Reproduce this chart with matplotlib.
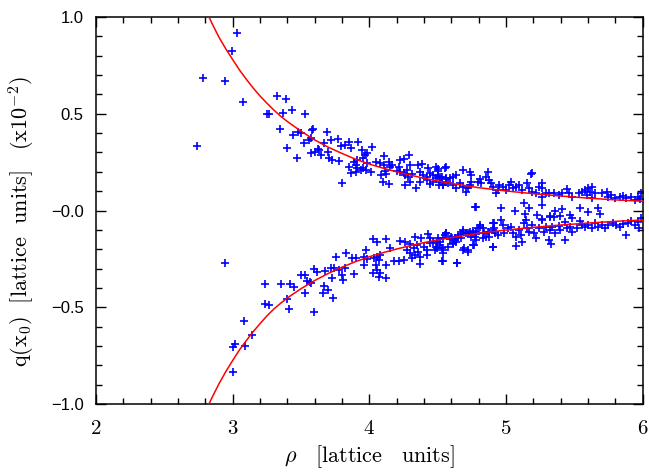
"""q(x0) against rho, with the two fitted decay curves."""

import matplotlib
matplotlib.use('Agg')
import matplotlib.pyplot as plt
from matplotlib.ticker import MultipleLocator

plt.rcParams['mathtext.fontset'] = 'cm'

# measured points, upper branch (q in units of 1e-2)
upper_rho = [3.031, 2.995, 2.785, 2.947, 3.072, 2.741, 3.328, 3.394, 3.249, 3.266,
             3.370, 3.435, 3.527, 3.345, 3.442, 3.478, 3.502, 3.580, 3.587, 3.556,
             3.570, 3.522, 3.396, 3.473, 3.690, 3.671, 3.720, 3.768, 3.628, 3.606,
             3.570, 3.696, 3.647, 3.707, 3.725, 3.780, 3.792, 3.820, 3.797, 3.635,
             3.855, 3.920, 3.864, 4.021, 3.949, 3.966, 3.985, 3.956, 3.913, 3.889,
             3.901, 3.852, 3.913, 3.864, 3.901, 3.937, 3.956, 3.973, 4.009, 3.985,
             4.050, 4.082, 4.111, 4.106, 4.142, 4.149, 4.166, 4.118, 4.087, 4.125,
             4.101, 4.142, 4.227, 4.251, 4.294, 4.215, 4.203, 4.227, 4.251, 4.263,
             4.275, 4.299, 4.287, 4.311, 4.299, 4.263, 4.343, 4.360, 4.384, 4.372,
             4.396, 4.420, 4.432, 4.444, 4.468, 4.488, 4.504, 4.492, 4.468, 4.444,
             4.420, 4.372, 4.517, 4.529, 4.512, 4.553, 4.560, 4.541,
             4.561, 4.505, 4.686, 4.739, 4.747, 4.867, 4.855, 5.193, 5.181, 4.638,
             4.614, 4.590, 4.565, 4.529, 4.505, 4.517, 4.541, 4.578, 4.614, 4.638,
             4.662, 4.686, 4.722, 4.710, 4.747, 4.735, 4.807, 4.819, 4.795, 4.879,
             4.892, 4.904, 4.952, 4.940, 4.928, 4.976, 5.000, 5.024, 5.036, 5.049,
             5.073, 5.097, 5.121, 5.157, 5.169, 5.193, 5.218, 5.242, 5.266, 5.261,
             5.290, 5.266, 5.314, 5.350, 5.387, 5.411, 5.447, 5.459, 5.483, 5.532,
             5.556, 5.580, 5.604, 5.616, 5.592, 5.628, 5.652, 5.701, 5.737, 5.749,
             5.773, 5.797, 5.834, 5.858, 5.882, 5.918, 5.942, 5.966, 5.990, 5.983,
             5.628, 4.778, 4.964, 5.065, 5.133, 5.169, 5.140, 5.230, 5.266, 5.326,
             5.362, 5.411, 5.471, 5.544, 5.604, 5.677, 5.689]
upper_q = [0.916, 0.824, 0.683, 0.668, 0.562, 0.333, 0.592, 0.575, 0.497, 0.499,
           0.502, 0.519, 0.497, 0.421, 0.390, 0.407, 0.402, 0.416, 0.421, 0.364,
           0.373, 0.350, 0.321, 0.270, 0.406, 0.350, 0.364, 0.371, 0.319, 0.304,
           0.299, 0.304, 0.287, 0.270, 0.261, 0.256, 0.333, 0.338, 0.140, 0.313,
           0.356, 0.356, 0.325, 0.330, 0.313, 0.287, 0.296, 0.273, 0.261, 0.249,
           0.236, 0.227, 0.218, 0.192, 0.198, 0.210, 0.222, 0.210, 0.198, 0.244,
           0.253, 0.244, 0.282, 0.236, 0.249, 0.227, 0.236, 0.205, 0.184, 0.187,
           0.149, 0.136, 0.261, 0.267, 0.287, 0.227, 0.205, 0.198, 0.192, 0.184,
           0.210, 0.236, 0.175, 0.187, 0.149, 0.132, 0.115, 0.236, 0.239, 0.198,
           0.184, 0.175, 0.222, 0.192, 0.184, 0.227, 0.205, 0.167, 0.149, 0.136,
           0.158, 0.149, 0.175, 0.149, 0.132, 0.222, 0.167, 0.132,
           0.223, 0.213, 0.209, 0.201, 0.183, 0.197, 0.175, 0.195, 0.187, 0.183,
           0.175, 0.166, 0.161, 0.171, 0.178, 0.149, 0.132, 0.144, 0.132, 0.115,
           0.140, 0.123, 0.115, 0.097, 0.149, 0.132, 0.161, 0.140, 0.149, 0.158,
           0.140, 0.123, 0.132, 0.106, 0.089, 0.123, 0.106, 0.132, 0.149, 0.115,
           0.123, 0.132, 0.106, 0.144, 0.115, 0.097, 0.089, 0.123, 0.140, 0.115,
           0.089, 0.071, 0.092, 0.089, 0.080, 0.092, 0.109, 0.089, 0.071, 0.089,
           0.097, 0.106, 0.115, 0.097, 0.080, 0.123, 0.089, 0.092, 0.097, 0.071,
           0.080, 0.063, 0.071, 0.075, 0.063, 0.071, 0.054, 0.071, 0.089, 0.058,
           0.063, 0.020, 0.011, -0.001, 0.037, 0.011, -0.018, -0.023, 0.028, -0.035,
           -0.001, 0.006, -0.023, 0.011, -0.006, 0.011, -0.018]

# measured points, lower branch
lower_rho = [2.942, 3.237, 3.352, 3.418, 3.449, 3.237, 3.268, 3.396, 3.415, 3.502,
             3.526, 3.546, 3.563, 3.575, 3.531, 3.594, 3.618, 3.676, 3.671, 3.659,
             3.695, 3.732, 3.724, 3.592, 3.756, 3.720, 3.744, 3.780, 3.797, 3.804,
             3.828, 3.821, 3.082, 3.140, 3.002, 3.019, 3.087, 3.000,
             3.870, 3.901, 3.889, 4.029, 4.054, 4.121, 3.976, 3.962, 3.962, 3.986,
             4.034, 4.058, 4.070, 4.082, 4.046, 4.058, 4.078, 4.029, 4.070, 4.126,
             4.119, 4.155, 4.179, 4.215, 4.252, 4.227, 4.264, 4.300, 4.336, 4.377,
             4.433, 4.445, 4.348, 4.324, 4.276, 4.300, 4.336, 4.360, 4.397, 4.421,
             4.445, 4.469, 4.488, 4.481, 4.312, 4.372, 4.368, 4.421,
             4.775, 4.565, 4.601, 4.626, 4.638, 4.613, 4.589, 4.650, 4.674, 4.686,
             4.722, 4.746, 4.758, 4.782, 4.807, 4.831, 4.843, 4.867, 4.879, 4.903,
             4.915, 4.923, 4.686, 4.722, 4.758, 4.782, 4.903, 4.642, 4.529, 4.541,
             4.493, 4.577, 4.517, 4.541,
             4.505, 4.517, 4.529, 4.541, 4.536, 4.643, 4.493, 4.553, 4.565, 4.602,
             4.614, 4.626, 4.650, 4.674, 4.686, 4.710, 4.735, 4.759, 4.771, 4.783,
             4.795, 4.807, 4.831, 4.855, 4.879, 4.904, 4.916, 4.940, 4.908, 4.964,
             4.976, 4.988, 5.012, 5.036, 5.049, 5.073, 5.097, 5.109, 5.121, 5.133,
             5.145, 5.157, 5.169, 5.193, 5.206, 5.218, 5.242, 5.266, 5.278, 5.290,
             5.314, 5.326, 5.338, 5.362, 5.387, 5.399, 5.435, 5.447, 5.471, 5.483,
             5.520, 5.544, 5.556, 5.580, 5.604, 5.628, 5.652, 5.677, 5.701, 5.725,
             5.749, 5.785, 5.809, 5.834, 5.858, 5.882, 5.894, 5.918, 5.942, 5.966,
             5.971, 5.990, 4.722, 4.764, 4.691, 5.073, 5.331, 5.351, 5.261, 5.326,
             5.399, 5.483, 5.435]
lower_q = [-0.270, -0.382, -0.380, -0.382, -0.394, -0.485, -0.488, -0.457, -0.511, -0.333,
           -0.333, -0.362, -0.368, -0.373, -0.425, -0.304, -0.316, -0.311, -0.390, -0.425,
           -0.411, -0.454, -0.347, -0.523, -0.239, -0.299, -0.299, -0.307, -0.333, -0.359,
           -0.221, -0.299, -0.569, -0.643, -0.707, -0.690, -0.699, -0.836,
           -0.247, -0.247, -0.330, -0.147, -0.161, -0.149, -0.204, -0.239, -0.282, -0.251,
           -0.247, -0.239, -0.256, -0.230, -0.282, -0.308, -0.325, -0.325, -0.342, -0.351,
           -0.282, -0.196, -0.261, -0.261, -0.256, -0.158, -0.165, -0.175, -0.135, -0.140,
           -0.123, -0.144, -0.178, -0.196, -0.204, -0.221, -0.230, -0.213, -0.187, -0.204,
           -0.170, -0.161, -0.187, -0.204, -0.247, -0.239, -0.278, -0.230,
           0.020, -0.118, -0.135, -0.144, -0.161, -0.170, -0.149, -0.126, -0.144, -0.109,
           -0.118, -0.135, -0.118, -0.109, -0.075, -0.092, -0.118, -0.109, -0.135, -0.101,
           -0.063, -0.118, -0.204, -0.213, -0.178, -0.152, -0.187, -0.270, -0.261, -0.204,
           -0.195, -0.187, -0.161, -0.144,
           -0.144, -0.178, -0.196, -0.221, -0.261, -0.273, -0.170, -0.127, -0.118, -0.140,
           -0.175, -0.152, -0.135, -0.123, -0.101, -0.118, -0.109, -0.106, -0.135, -0.123,
           -0.092, -0.084, -0.144, -0.135, -0.109, -0.066, -0.092, -0.127, -0.187, -0.049,
           -0.075, -0.118, -0.092, -0.084, -0.118, -0.135, -0.101, -0.127, -0.161, -0.066,
           -0.049, -0.092, -0.109, -0.075, -0.118, -0.140, -0.092, -0.049, -0.109, -0.084,
           -0.152, -0.101, -0.084, -0.118, -0.078, -0.101, -0.152, -0.092, -0.084, -0.109,
           -0.092, -0.054, -0.075, -0.084, -0.075, -0.092, -0.066, -0.084, -0.075, -0.092,
           -0.075, -0.066, -0.075, -0.084, -0.071, -0.127, -0.066, -0.054, -0.075, -0.058,
           -0.092, -0.040, -0.204, -0.178, -0.196, -0.182, -0.175, -0.032, -0.044, -0.027,
           -0.027, -0.037, -0.058]

# fitted curves
curve_rho = [2.80, 2.85, 2.90, 2.95, 3.00, 3.05, 3.10, 3.15, 3.20, 3.25, 3.30, 3.35,
             3.40, 3.50, 3.60, 3.70, 3.80, 3.90, 4.00, 4.10, 4.20, 4.30, 4.40, 4.50,
             4.60, 4.80, 5.00, 5.20, 5.40, 5.60, 5.80, 6.00]
curve_upper = [1.04, 0.965, 0.895, 0.835, 0.78, 0.726, 0.678, 0.633, 0.592, 0.555, 0.52, 0.488,
               0.46, 0.41, 0.365, 0.327, 0.295, 0.265, 0.24, 0.219, 0.2, 0.183, 0.167, 0.153,
               0.14, 0.118, 0.101, 0.087, 0.075, 0.064, 0.055, 0.048]
curve_lower = [-1.04, -0.965, -0.895, -0.832, -0.775, -0.72, -0.672, -0.626, -0.585, -0.545, -0.51, -0.48,
               -0.452, -0.404, -0.362, -0.325, -0.293, -0.264, -0.239, -0.218, -0.199, -0.182, -0.166, -0.152,
               -0.14, -0.118, -0.101, -0.087, -0.075, -0.065, -0.056, -0.049]

x_ticks = [2, 3, 4, 5, 6]
y_ticks = [-1.0, -0.5, 0.0, 0.5, 1.0]
y_labels = ['\u22121.0', '\u22120.5', '\u22120.0', '0.5', '1.0']

fig = plt.figure(figsize=(6.49, 4.72), dpi=100)
ax = fig.add_axes([0.148, 0.144, 0.842, 0.820])

ax.plot(upper_rho, upper_q, ls='none', marker='+', color='blue', ms=5.5, mew=1.2)
ax.plot(lower_rho, lower_q, ls='none', marker='+', color='blue', ms=5.5, mew=1.2)
ax.plot(curve_rho, curve_upper, color='red', lw=1.1, zorder=3)
ax.plot(curve_rho, curve_lower, color='red', lw=1.1, zorder=3)

ax.set_xlim(2, 6)
ax.set_ylim(-1, 1)
ax.xaxis.set_minor_locator(MultipleLocator(0.2))
ax.yaxis.set_minor_locator(MultipleLocator(0.1))
ax.set_xticks(x_ticks, ['$%d$' % t for t in x_ticks], fontsize=15)
ax.set_yticks(y_ticks, y_labels, fontsize=12, family='Liberation Sans')
ax.tick_params(which='both', direction='in', top=True, right=True, width=1)
ax.tick_params(which='major', length=7)
ax.tick_params(which='minor', length=4)
ax.tick_params(axis='x', pad=10)
ax.tick_params(axis='y', pad=9)
for s in ax.spines.values():
    s.set_linewidth(1.1)

ax.set_xlabel(r'$\rho\ \ \ \mathrm{[lattice\ \ \ units]}$', fontsize=16, labelpad=4)
fig.text(0.034, 0.53, r'$\mathrm{q(x_0)\ \ [lattice\ \ units]\ \ \ (x10^{-2})}$',
         rotation=90, fontsize=16, ha='center', va='center')

fig.savefig('out.png', dpi=100)
